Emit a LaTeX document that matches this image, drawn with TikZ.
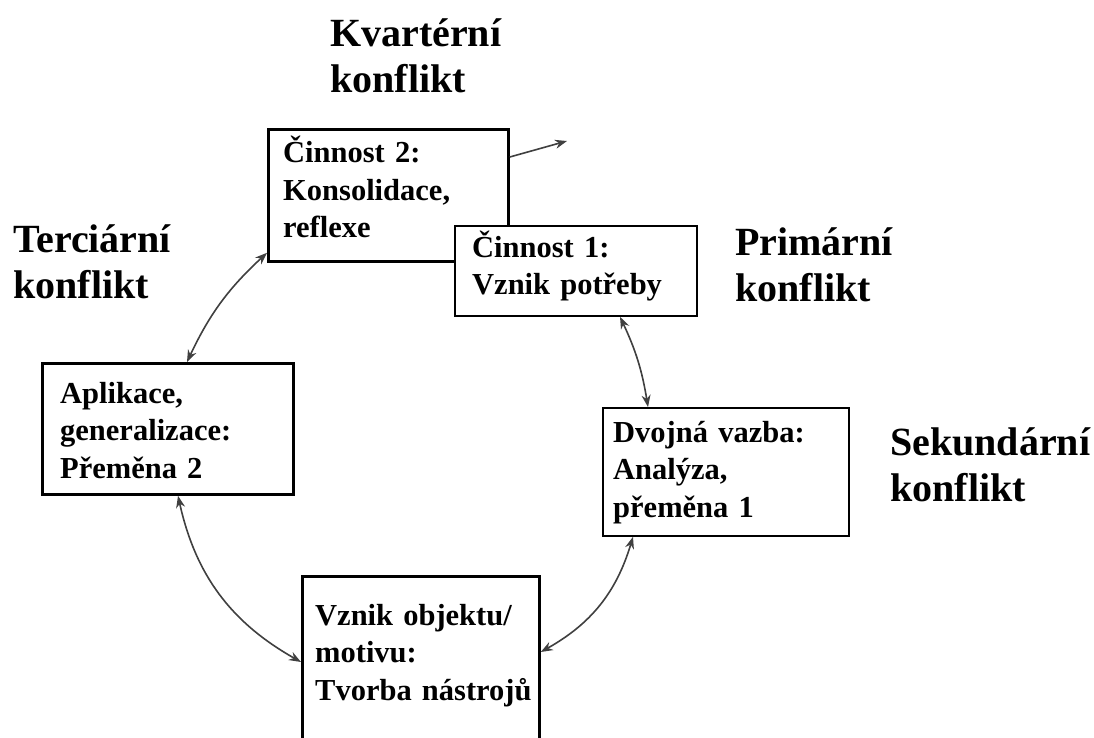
\documentclass[tikz,border=0pt]{standalone}
\usepackage{fontspec}
\setmainfont{Liberation Serif}
\usetikzlibrary{arrows.meta}
\begin{document}
\begin{tikzpicture}[x=1pt, y=-1pt,
    box/.style={draw, fill=white, line width=2.8pt, inner sep=0pt, anchor=north west},
    thinbox/.style={box, line width=1.8pt},
    boxtext/.style={anchor=base west, inner sep=0pt, text width=235pt, align=left,
      font=\bfseries\fontsize{30.5}{37.5}\selectfont},
    conftext/.style={anchor=base west, inner sep=0pt, text width=220pt, align=left,
      font=\bfseries\fontsize{40}{46}\selectfont},
    link/.style={black!75, line width=1.6pt, {Stealth[length=12pt,width=9pt]}-{Stealth[length=12pt,width=9pt]}},
    outlink/.style={black!75, line width=1.6pt, -{Stealth[length=12pt,width=9pt]}}]
  \clip (0,0) rectangle (1094,738);
  \fill[white] (0,0) rectangle (1094,738);

  % boxes of the cycle
  \node[box, minimum width=240pt, minimum height=132pt] (act2) at (267,128) {};
  \node[boxtext] (act2txt) at (283,163) {Činnost 2:\\Konsolidace,\\reflexe};
  \node[thinbox, minimum width=242pt, minimum height=90pt] (act1) at (454,225) {};
  \node[boxtext] (act1txt) at (472,257) {Činnost 1:\\Vznik potřeby};
  \node[thinbox, minimum width=246pt, minimum height=128pt] (dvoj) at (602,407) {};
  \node[boxtext] (dvojtxt) at (613,442) {Dvojná vazba:\\Analýza,\\přeměna 1};
  \node[box, minimum width=237pt, minimum height=180pt] (vznik) at (301,575) {};
  \node[boxtext] (vzniktxt) at (315,625) {Vznik objektu/\\motivu:\\Tvorba nástrojů};
  \node[box, minimum width=251pt, minimum height=131pt] (apl) at (41,362) {};
  \node[boxtext] (apltxt) at (60,403) {Aplikace,\\generalizace:\\Přeměna 2};

  % conflicts
  \node[conftext] (kvart) at (330,47) {Kvartérní\\konflikt};
  \node[conftext] (terc) at (13,252) {Terciární\\konflikt};
  \node[conftext] (prim) at (735,255) {Primární\\konflikt};
  \node[conftext] (sek) at (890,455) {Sekundární\\konflikt};

  % arrows
  \coordinate (out) at (567,141);
  \draw[link] ([xshift=166pt]act1.south west) to[bend left=8] ([xshift=46pt]dvoj.north west);
  \draw[link] ([xshift=31pt]dvoj.south west) to[bend left=22] ([yshift=-77pt]vznik.north east);
  \draw[link] ([yshift=-87pt]vznik.north west) to[bend left=24] ([xshift=137pt]apl.south west);
  \draw[link] ([xshift=146pt]apl.north west) to[bend left=11] ([yshift=10pt]act2.south west);
  \draw[outlink] ([yshift=-29pt]act2.north east) -- (out);
\end{tikzpicture}
\end{document}
